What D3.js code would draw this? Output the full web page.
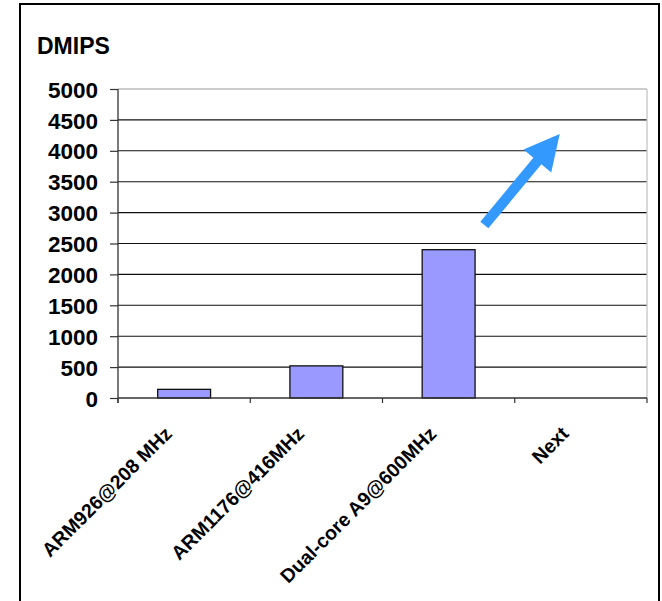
<!DOCTYPE html>
<html>
<head>
<meta charset="utf-8">
<script src="https://cdn.jsdelivr.net/npm/d3@7"></script>
<style>
body{margin:0;background:#fff;}
svg{display:block;font-family:"Liberation Sans",Arial,sans-serif;}
</style>
</head>
<body>
<svg id="chart" width="662" height="601"></svg>
<script>
const categories = ["ARM926@208 MHz", "ARM1176@416MHz", "Dual-core A9@600MHz", "Next"];
const dmips = [140, 520, 2400, null];
const yTicks = [0, 500, 1000, 1500, 2000, 2500, 3000, 3500, 4000, 4500, 5000];
const axisTitle = "DMIPS";
// trend arrow, in (category index, DMIPS) units
const arrowFrom = [2.77, 2800];
const arrowTo = [3.34, 4270];

(function () {
const svg = d3.select("#chart");
const pLeft = 118, pRight = 647, pTop = 89, pBottom = 398;

const x = d3.scaleBand().domain(categories).range([pLeft, pRight]).paddingInner(0.6).paddingOuter(0.3);
const y = d3.scaleLinear().domain([0, 5000]).range([pBottom, pTop]);
const xi = d3.scaleLinear().domain([0, categories.length]).range([pLeft, pRight]);

// outer frame
svg.append("rect").attr("x", 20).attr("y", 4).attr("width", 639).attr("height", 610)
  .attr("fill", "none").attr("stroke", "#000").attr("stroke-width", 2);

// gridlines
svg.append("g").selectAll("line").data(yTicks.filter(d => d > 0 && d < 5000)).join("line")
  .attr("x1", pLeft).attr("x2", pRight)
  .attr("y1", d => y(d)).attr("y2", d => y(d))
  .attr("stroke", "#111").attr("stroke-width", 1.1);

// plot border (top & right gray)
svg.append("line").attr("x1", pLeft).attr("x2", pRight).attr("y1", pTop).attr("y2", pTop)
  .attr("stroke", "#999").attr("stroke-width", 1.2);
svg.append("line").attr("x1", pRight).attr("x2", pRight).attr("y1", pTop).attr("y2", pBottom)
  .attr("stroke", "#c0c0c0").attr("stroke-width", 1.2);

// bars
svg.append("g").selectAll("rect").data(categories.map((c, i) => ({c, v: dmips[i]})).filter(d => d.v != null)).join("rect")
  .attr("x", d => x(d.c)).attr("width", x.bandwidth())
  .attr("y", d => y(d.v)).attr("height", d => y(0) - y(d.v))
  .attr("fill", "#9999ff").attr("stroke", "#111").attr("stroke-width", 1.3);

// y axis
const yAxis = svg.append("g").attr("transform", `translate(${pLeft},0)`)
  .call(d3.axisLeft(y).tickValues(yTicks).tickFormat(d3.format("d")).tickSize(8).tickPadding(12).tickSizeOuter(0));
yAxis.select(".domain").remove();
yAxis.selectAll(".tick line").attr("stroke", "#333").attr("stroke-width", 1.2);
yAxis.selectAll(".tick text").attr("font-size", 22.5).attr("font-weight", "bold")
  .attr("fill", "#000").attr("font-family", "'Liberation Sans',Arial,sans-serif").attr("dy", "0.36em");
svg.append("line").attr("x1", pLeft).attr("x2", pLeft).attr("y1", pTop).attr("y2", pBottom + 5)
  .attr("stroke", "#333").attr("stroke-width", 1.3);

// x axis
svg.append("line").attr("x1", pLeft).attr("x2", pRight).attr("y1", pBottom).attr("y2", pBottom)
  .attr("stroke", "#333").attr("stroke-width", 1.3);
const bounds = d3.range(categories.length + 1).map(i => xi(i));
svg.append("g").selectAll("line").data(bounds).join("line")
  .attr("x1", d => d).attr("x2", d => d).attr("y1", pBottom).attr("y2", pBottom + 5)
  .attr("stroke", "#333").attr("stroke-width", 1.2);

svg.append("g").selectAll("text").data(categories).join("text")
  .attr("transform", d => `translate(${x(d) + x.bandwidth() / 2 - 11},435) rotate(-45)`)
  .attr("text-anchor", "end").attr("font-size", 19.5).attr("font-weight", "bold")
  .attr("fill", "#000").text(d => d);

// title
svg.append("text").attr("x", 37).attr("y", 54).attr("font-size", 23).attr("font-weight", "bold")
  .attr("fill", "#000").text(axisTitle);

// arrow
const x0 = xi(arrowFrom[0]), y0 = y(arrowFrom[1]);
const x1 = xi(arrowTo[0]), y1 = y(arrowTo[1]);
const dx = x1 - x0, dy = y1 - y0, len = Math.hypot(dx, dy);
const ux = dx / len, uy = dy / len, px = -uy, py = ux;
const sw = 5.2, hw = 18, hl = 35;
const bx = x1 - ux * hl, by = y1 - uy * hl;
const pts = [
  [x0 + px * sw, y0 + py * sw],
  [bx + px * sw, by + py * sw],
  [bx + px * hw, by + py * hw],
  [x1, y1],
  [bx - px * hw, by - py * hw],
  [bx - px * sw, by - py * sw],
  [x0 - px * sw, y0 - py * sw]
];
svg.append("path").attr("d", d3.line()(pts) + "Z").attr("fill", "#3399ff");
})();
</script>
</body>
</html>
